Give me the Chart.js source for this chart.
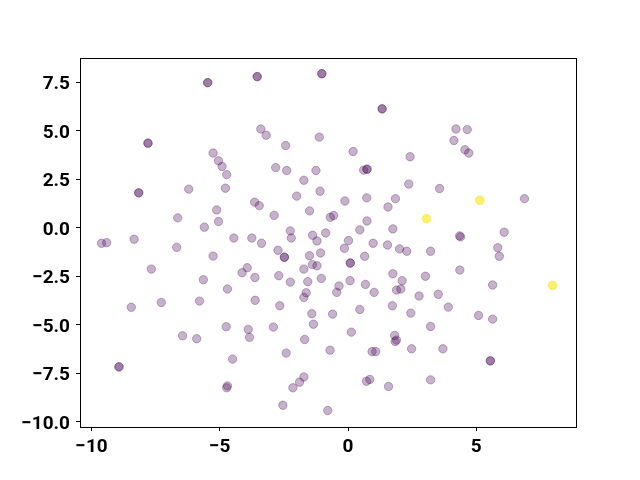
<!doctype html>
<html>
<head>
<meta charset="utf-8">
<title>scatter</title>
<script src="https://cdn.jsdelivr.net/npm/chart.js"></script>
<style>
  html, body { margin: 0; padding: 0; background: #fff; }
</style>
</head>
<body>
<canvas id="scatter" width="640" height="480"></canvas>
<script>
// point data; points drawn twice overlap and look darker
const pointX = [
  -5.47, -5.47, -7.80, -7.80, -5.26, -5.05, -4.91, -4.73, -8.16, -8.16, -6.21, -4.78,
  -5.12, -5.05, -6.64, -5.60, -8.34, -9.61, -9.41, -4.45, -3.75, -6.68, -5.26, -7.67,
  -3.93, -4.13, -5.64, -4.70, -8.45, -7.28, -5.79, -4.75, -6.45, -5.90, -3.89, -3.84,
  -8.93, -8.93, -4.50, -4.70, -4.73, -3.54, -3.54, -1.02, -1.02, 1.33, 1.33, -3.40,
  -3.19, -1.12, -2.43, 0.20, 2.42, -2.82, -2.39, -1.25, 0.61, 0.74, 0.74, -1.72,
  2.37, -1.09, -2.00, -3.64, -3.46, -0.12, 0.73, 1.85, 1.56, -2.88, -1.50, -0.69,
  -0.56, 0.74, 0.46, 1.75, -2.25, -2.21, -1.38, -1.21, -0.87, -3.37, 0.02, 0.98,
  1.54, 2.01, 2.29, -2.73, -2.48, -2.48, -1.50, -1.07, -0.14, 0.65, 0.09, 0.09,
  -1.72, -1.39, -1.21, -3.63, -2.70, -2.25, -1.57, -1.04, -0.35, -0.44, 0.08, 0.68,
  1.02, 1.75, 2.11, 1.89, 2.06, -1.63, -1.72, -3.62, -2.66, 1.73, 2.45, 2.77,
  0.46, -1.41, -0.60, -1.35, -2.91, -1.69, -0.70, -2.41, 0.13, 1.82, 1.89, 1.84,
  0.94, 1.08, 2.48, -1.72, -1.89, -2.15, 0.72, 0.85, 1.58, -2.54, -0.79, 4.21,
  4.65, 4.13, 4.56, 4.71, 3.57, 6.88, 6.09, 4.35, 4.39, 5.84, 5.90, 3.22,
  4.36, 3.02, 5.64, 3.52, 3.91, 5.09, 5.64, 3.22, 3.70, 5.55, 5.55, 3.22,
  5.14, 5.14, 5.14, 3.06, 3.06, 3.06, 7.98, 7.98, 7.98
];
const pointY = [
  7.49, 7.49, 4.37, 4.37, 3.86, 3.46, 3.17, 2.75, 1.81, 1.81, 2.00, 2.05,
  0.93, 0.33, 0.52, 0.04, -0.58, -0.79, -0.76, -0.52, -0.52, -1.00, -1.45, -2.12,
  -2.05, -2.31, -2.67, -3.15, -4.09, -3.84, -3.77, -5.09, -5.56, -5.71, -5.23, -5.64,
  -7.16, -7.16, -6.76, -8.14, -8.24, 7.80, 7.80, 7.95, 7.95, 6.14, 6.14, 5.10,
  4.78, 4.68, 4.25, 3.94, 3.67, 3.11, 2.96, 2.96, 2.98, 3.03, 3.03, 2.46,
  2.26, 1.89, 1.64, 1.33, 1.15, 1.39, 1.55, 1.51, 1.08, 0.65, 0.88, 0.55,
  0.64, 0.36, -0.10, -0.05, -0.15, -0.52, -0.38, -0.67, -0.26, -0.79, -0.65, -0.79,
  -0.88, -1.08, -1.20, -1.15, -1.51, -1.51, -1.43, -1.29, -1.05, -1.46, -1.81, -1.81,
  -2.12, -1.89, -1.95, -2.55, -2.46, -2.79, -2.77, -2.60, -2.99, -3.32, -2.72, -2.91,
  -3.32, -2.36, -2.72, -3.20, -3.15, -3.34, -3.58, -3.73, -4.01, -4.01, -4.39, -3.51,
  -4.20, -4.42, -4.44, -4.96, -5.11, -5.75, -6.30, -6.45, -5.37, -5.54, -5.78, -5.85,
  -6.37, -6.37, -6.23, -7.68, -7.95, -8.24, -7.90, -7.81, -8.17, -9.14, -9.41, 5.10,
  5.07, 4.51, 4.03, 3.86, 2.03, 1.51, -0.22, -0.41, -0.46, -1.02, -1.46, -1.20,
  -2.17, -2.49, -2.94, -3.42, -4.08, -4.51, -4.70, -5.08, -6.23, -6.85, -6.85, -7.83,
  1.43, 1.43, 1.43, 0.48, 0.48, 0.48, -2.96, -2.96, -2.96
];
// 0 = low end of viridis, 1 = high end
const pointClass = pointX.map((x, i) => (i >= pointX.length - 9 ? 1 : 0));

const xTicks = [-10, -5, 0, 5];
const yTicks = [-10, -7.5, -5, -2.5, 0, 2.5, 5, 7.5];

const classColors = ['rgba(68, 1, 84, 0.3)', 'rgba(253, 231, 37, 0.3)'];

const points = pointX.map((x, i) => ({ x: x, y: pointY[i] }));

// black box round the plot area, drawn over the points like matplotlib spines
const frame = {
  id: 'frame',
  afterDatasetsDraw(chart) {
    const a = chart.chartArea;
    const ctx = chart.ctx;
    ctx.save();
    ctx.strokeStyle = '#000';
    ctx.lineWidth = 1;
    ctx.strokeRect(a.left + 0.5, a.top + 0.5, a.right - a.left, a.bottom - a.top);
    ctx.restore();
  }
};

const minus = s => String(s).replace('-', '\u2212');

Chart.defaults.font.family = 'Roboto';
Chart.defaults.font.size = 19;
Chart.defaults.font.weight = 'bold';
Chart.defaults.color = '#000';

new Chart(document.getElementById('scatter').getContext('2d'), {
  type: 'scatter',
  data: {
    datasets: [{
      data: points,
      pointRadius: 4.2,
      pointBorderWidth: 1,
      backgroundColor: c => classColors[pointClass[c.dataIndex]],
      borderColor: c => classColors[pointClass[c.dataIndex]],
      pointHoverRadius: 4.2
    }]
  },
  options: {
    responsive: false,
    animation: false,
    events: [],
    layout: { padding: { left: 0, top: 58, right: 64, bottom: 0 } },
    plugins: { legend: { display: false }, tooltip: { enabled: false } },
    scales: {
      x: {
        type: 'linear',
        min: -10.45,
        max: 8.89,
        afterFit: s => { s.height = 53; },
        afterBuildTicks: s => { s.ticks = xTicks.map(v => ({ value: v })); },
        ticks: { padding: 5, callback: v => minus(v) },
        grid: { drawOnChartArea: false, drawTicks: true, tickLength: 4, color: '#000' },
        border: { display: false }
      },
      y: {
        type: 'linear',
        min: -10.26,
        max: 8.76,
        afterFit: s => { s.width = 80; },
        afterBuildTicks: s => { s.ticks = yTicks.map(v => ({ value: v })); },
        ticks: { padding: 6, labelOffset: 2, callback: v => minus(Number(v).toFixed(1)) },
        grid: { drawOnChartArea: false, drawTicks: true, tickLength: 4, color: '#000' },
        border: { display: false }
      }
    }
  },
  plugins: [frame]
});
</script>
</body>
</html>
